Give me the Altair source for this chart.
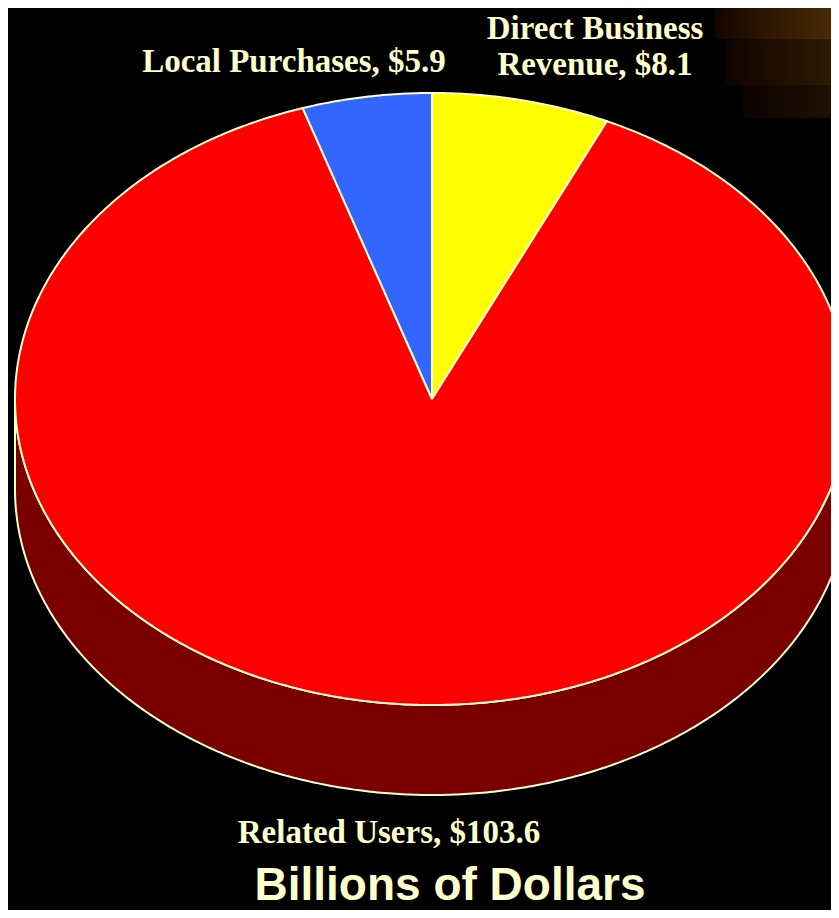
import altair as alt
import numpy as np
import pandas as pd

# ---- data ----
categories = ["Direct Business Revenue", "Related Users", "Local Purchases"]
values = [8.1, 103.6, 5.9]
fills = ["#FFFF00", "#FF0000", "#3366FF"]
side_fill = "#7A0000"

# ---- geometry (reference pixel space) ----
CX, CY, RX, RY, DEPTH = 432.0, 399.0, 417.0, 306.0, 90.0
total = sum(values)

rows = []
start = 0.0
for cat, v in zip(categories, values):
    end = start + v / total * 360.0
    ts = np.linspace(start, end, max(4, int((end - start) * 2)))
    pts = [(CX, CY)]
    for t in ts:
        r = np.radians(t)
        pts.append((CX + RX * np.sin(r), CY - RY * np.cos(r)))
    pts.append((CX, CY))
    for i, (x, y) in enumerate(pts):
        rows.append({"slice": cat, "i": i, "x": x, "y": y})
    start = end
top_df = pd.DataFrame(rows)

side_rows = []
ts = np.linspace(90, 270, 361)
pts = [(CX + RX * np.sin(np.radians(t)), CY - RY * np.cos(np.radians(t))) for t in ts]
pts = pts + [(x, y + DEPTH) for (x, y) in reversed(pts)] + [pts[0]]
for i, (x, y) in enumerate(pts):
    side_rows.append({"slice": "side", "i": i, "x": x, "y": y})
side_df = pd.DataFrame(side_rows)

W, H = 823, 902
xs = alt.Scale(domain=[8, 8 + W], range=[0, W])
ys = alt.Scale(domain=[8, 8 + H], range=[0, H])
STROKE = "#FFFFCC"
TXT = "#FFFFCC"

side = alt.Chart(side_df).mark_line(
    filled=True, fill=side_fill, stroke=STROKE, strokeWidth=2, clip=True
).encode(
    x=alt.X("x:Q", scale=xs, axis=None),
    y=alt.Y("y:Q", scale=ys, axis=None),
    order="i:Q",
)

top = alt.Chart(top_df).mark_line(
    filled=True, stroke=STROKE, strokeWidth=2, clip=True, strokeJoin="round"
).encode(
    x=alt.X("x:Q", scale=xs, axis=None),
    y=alt.Y("y:Q", scale=ys, axis=None),
    color=alt.Color("slice:N", scale=alt.Scale(domain=categories, range=fills), legend=None),
    detail="slice:N",
    order="i:Q",
)

def grad(c0, c1):
    return alt.LinearGradient(
        gradient="linear",
        stops=[alt.GradientStop(color=c0, offset=0), alt.GradientStop(color=c1, offset=1)],
        x1=0, x2=1, y1=0, y2=0,
    )

base = alt.Chart(pd.DataFrame({"a": [0]}))
deco = (
    base.mark_rect(color=grad("#140500", "#4A2A05")).encode(
        x=alt.value(707), x2=alt.value(W), y=alt.value(0), y2=alt.value(31))
    + base.mark_rect(color=grad("#100300", "#2E1A03")).encode(
        x=alt.value(717), x2=alt.value(W), y=alt.value(31), y2=alt.value(77))
    + base.mark_rect(color=grad("#0C0200", "#1E1002")).encode(
        x=alt.value(735), x2=alt.value(W), y=alt.value(77), y2=alt.value(110))
)

def label(text, px, py, size=33, font="Liberation Serif", lh=None):
    props = dict(font=font, fontSize=size, fontWeight="bold", color=TXT,
                 align="center", baseline="alphabetic")
    if lh:
        props["lineHeight"] = lh
    return base.mark_text(**props).encode(
        x=alt.value(px - 8), y=alt.value(py - 8), text=alt.value(text)
    )

labels = (
    label(["Direct Business", "Revenue, $8.1"], 595, 39, lh=36)
    + label("Local Purchases, $5.9", 294, 72)
    + label("Related Users, $103.6", 389, 843)
    + label("Billions of Dollars", 450, 900, size=46, font="Liberation Sans")
)

chart = (deco + side + top + labels).properties(
    width=W, height=H, background="black", padding=0
).configure_view(stroke=None, fill="black").properties(autosize=alt.AutoSizeParams(type="none"))

chart.save("out.html", embed_options={"renderer": "svg", "actions": False})
